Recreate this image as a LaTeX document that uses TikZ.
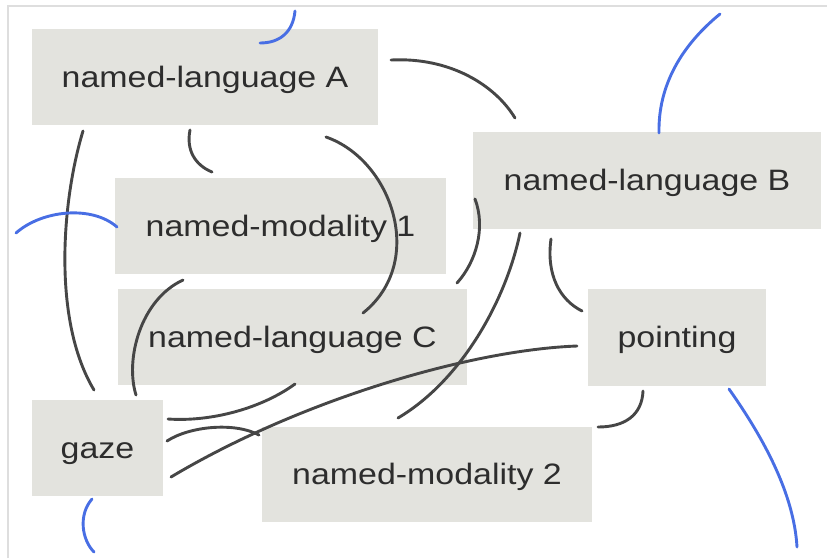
\documentclass[tikz,border=0pt]{standalone}
\usepackage{graphicx}
\usepackage{fontspec}
\setmainfont{Liberation Sans}
\definecolor{boxfill}{RGB}{227,227,222}
\definecolor{inkgray}{RGB}{45,45,45}
\definecolor{linkgray}{RGB}{70,70,70}
\definecolor{linkblue}{RGB}{72,110,228}
\definecolor{framegray}{RGB}{222,222,222}
\newcommand\widelabel[1]{\scalebox{1.15}[1]{#1}}
\tikzset{
  box/.style={fill=boxfill, inner sep=0pt, text=inkgray,
    font=\fontsize{29.5pt}{34pt}\selectfont, text height=20pt, text depth=0pt},
  link/.style={draw=linkgray, line width=2.9pt, line cap=round},
  halo/.style={draw=linkblue, line width=2.9pt, line cap=round}
}
\begin{document}
\begin{tikzpicture}[x=1pt,y=-1pt]
\useasboundingbox (0,0) rectangle (827,558);
% light frame, open to the right and bottom
\draw[framegray, line width=1.2pt] (8,558) -- (8,6) -- (827,6);

% concept boxes
\node[box, minimum width=346pt, minimum height=96pt] (langA) at (205,77) {\widelabel{named-language A}};
\node[box, minimum width=331pt, minimum height=96pt] (mod1) at (280.5,226) {\widelabel{named-modality 1}};
\node[box, minimum width=348pt, minimum height=97pt] (langB) at (647,180.5) {\widelabel{named-language B}};
\node[box, minimum width=349pt, minimum height=96pt] (langC) at (292.5,337) {\widelabel{named-language C}};
\node[box, minimum width=131pt, minimum height=96pt] (gaze) at (97.5,448) {\widelabel{gaze}};
\node[box, minimum width=330pt, minimum height=95pt] (mod2) at (427,474.5) {\widelabel{named-modality 2}};
\node[box, minimum width=178pt, minimum height=97pt] (point) at (677,337.5) {\widelabel{pointing}};

% free ends of the connectors
\coordinate (aR) at (391,60);    \coordinate (bL) at (515,118);
\coordinate (aB1) at (190,130);  \coordinate (m1T) at (212,172);
\coordinate (aB2) at (83,131);   \coordinate (gT1) at (94,390);
\coordinate (aB3) at (326,137);  \coordinate (cT) at (363,313);
\coordinate (m1B) at (183,280);  \coordinate (gT2) at (136,395);
\coordinate (bL2) at (475,199);  \coordinate (cR) at (457,283);
\coordinate (bB1) at (520,233);  \coordinate (m2T) at (398,418);
\coordinate (bB2) at (551,239);  \coordinate (pL1) at (582,311);
\coordinate (pL2) at (577,346);  \coordinate (gR1) at (171,477);
\coordinate (cB) at (295,384);   \coordinate (gR2) at (168,419);
\coordinate (gR3) at (167,441);  \coordinate (m2L) at (259,435);
\coordinate (pB) at (643,391);   \coordinate (m2R) at (598,427);

% connectors
\draw[link] (aR) .. controls (450,57) and (495,85) .. (bL);
\draw[link] (aB1) .. controls (186,150) and (195,165) .. (m1T);
\draw[link] (aB2) .. controls (62,200) and (52,320) .. (gT1);
\draw[link] (aB3) .. controls (392,160) and (427,262) .. (cT);
\draw[link] (m1B) .. controls (140,300) and (125,360) .. (gT2);
\draw[link] (bL2) .. controls (486,228) and (476,262) .. (cR);
\draw[link] (bB1) .. controls (506,300) and (462,380) .. (m2T);
\draw[link] (bB2) .. controls (546,275) and (560,300) .. (pL1);
\draw[link] (pL2) .. controls (470,350) and (300,400) .. (gR1);
\draw[link] (cB) .. controls (262,408) and (212,422) .. (gR2);
\draw[link] (gR3) .. controls (190,426) and (235,422) .. (m2L);
\draw[link] (pB) .. controls (642,415) and (625,427) .. (m2R);

% blue arcs leaving the picture
\coordinate (hA1) at (295,11);  \coordinate (hA2) at (260,43);
\coordinate (hM1) at (16,233);  \coordinate (hM2) at (117,227);
\coordinate (hB1) at (659,133); \coordinate (hB2) at (720,14);
\coordinate (hP1) at (729,389); \coordinate (hP2) at (797,547);
\coordinate (hG1) at (92,499);  \coordinate (hG2) at (94,552);
\draw[halo] (hA1) .. controls (293,32) and (280,43) .. (hA2);
\draw[halo] (hM1) .. controls (42,210) and (92,205) .. (hM2);
\draw[halo] (hB1) .. controls (658,85) and (682,45) .. (hB2);
\draw[halo] (hP1) .. controls (765,440) and (794,495) .. (hP2);
\draw[halo] (hG1) .. controls (78,515) and (82,540) .. (hG2);
\end{tikzpicture}
\end{document}
